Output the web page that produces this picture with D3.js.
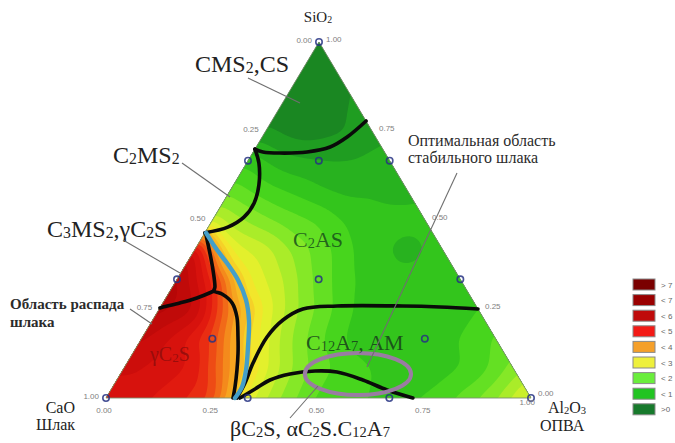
<!DOCTYPE html>
<html><head><meta charset="utf-8">
<script src="https://cdn.jsdelivr.net/npm/d3@7"></script>
<style>html,body{margin:0;padding:0;background:#fff;}svg{display:block;}</style>
</head><body>
<svg id="chart" width="675" height="443"></svg>
<script>
// ---------------- DATA ----------------
// legend classes
const legendLabels = ["> 7", "< 7", "< 6", "< 5", "< 4", "< 3", "< 2", "< 1", ">0"];
const legendColors = ["#7a0000", "#9a0000", "#bf0a0a", "#f31a16", "#f5a02a", "#eef03c", "#6aee3c", "#22c422", "#177a2c"];
const tickValues = [0, 0.25, 0.5, 0.75, 1];

// field values, rows at SiO2 = j/12, entries at Al2O3 = i/12
const fieldSi00 = [5.2, 5.3, 5.1, 4.7, 2.9, 2.2, 1.7, 1.5, 1.5, 1.5, 1.8, 2.2, 2.9];
const fieldSi01 = [5.6, 5.4, 5.2, 4.0, 2.8, 2.1, 1.7, 1.5, 1.4, 1.4, 1.6, 2.1];
const fieldSi02 = [5.8, 5.4, 4.7, 3.3, 2.4, 1.8, 1.4, 1.3, 1.4, 1.5, 1.8];
const fieldSi03 = [6.1, 5.8, 4.2, 2.9, 2.2, 1.7, 1.3, 1.3, 1.3, 1.5];
const fieldSi04 = [6.1, 5.0, 3.0, 2.5, 1.9, 1.5, 1.3, 1.3, 1.4];
const fieldSi05 = [5.6, 2.9, 2.6, 2.1, 1.7, 1.3, 1.2, 1.3];
const fieldSi06 = [2.6, 2.2, 1.9, 1.7, 1.4, 1.3, 1.3];
const fieldSi07 = [1.9, 1.6, 1.4, 1.2, 1.2, 1.2];
const fieldSi08 = [1.4, 1.1, 1.0, 1.0, 1.1];
const fieldSi09 = [0.8, 0.6, 0.7, 0.9];
const fieldSi10 = [0.5, 0.5, 0.8];
const fieldSi11 = [0.5, 0.7];
const fieldSi12 = [0.6];

// experimental design points [Al2O3, SiO2]
const designPoints = [[0,0],[1,0],[0,1],[1/3,0],[2/3,0],[0,1/3],[0,2/3],[1/3,2/3],[2/3,1/3],[1/3,1/3],[1/6,1/6],[2/3,1/6],[1/6,2/3]];

// phase boundaries [Al2O3, SiO2]
const lineCMS = [[0,0.699],[0.023,0.691],[0.064,0.688],[0.127,0.691],[0.174,0.705],[0.200,0.733],[0.222,0.778]];
const lineC2MS = [[0,0.699],[0.029,0.660],[0.060,0.598],[0.074,0.548],[0.070,0.508],[0.046,0.480],[0.0,0.464]];
const lineGamma = [[0.003,0.462],[0.0405,0.407],[0.0715,0.3596],[0.100,0.3118],[0.1035,0.3006],[0.1266,0.292],[0.163,0.267],[0.194,0.2275],[0.2247,0.1713],[0.2473,0.1264],[0.2687,0.0787],[0.288,0.0309],[0.2988,0]];
const lineGammaLeft = [[0.1035,0.3006],[0.073,0.281],[0.040,0.267],[0.006,0.2556],[0,0.253]];
const lineC2AS = [[0.308,0],[0.306,0.0421],[0.2967,0.0983],[0.293,0.1713],[0.3066,0.219],[0.338,0.25],[0.414,0.2584],[0.569,0.2584],[0.658,0.2556],[0.75,0.25]];
const lineC12A7 = [[0.315,0],[0.338,0.0253],[0.3606,0.0506],[0.399,0.0674],[0.4537,0.0758],[0.507,0.073],[0.579,0.0506],[0.650,0.0225],[0.722,0]];
const lineStable = [[0.003,0.464],[0.044,0.424],[0.0946,0.379],[0.1445,0.3315],[0.1915,0.2753],[0.2266,0.219],[0.2623,0.1433],[0.290,0.0787],[0.3045,0.0309],[0.3035,0]];
const optimumCenter = [0.559, 0.0674];
const optimumRadii = [0.125, 0.059];

// ---------------- LAYOUT ----------------
const svg = d3.select("#chart");
const corner = { cao: [106, 398], al: [531, 398], si: [319, 42] };
function proj(al, si) {
  const c = 1 - al - si;
  return [c * corner.cao[0] + al * corner.al[0] + si * corner.si[0],
          c * corner.cao[1] + al * corner.al[1] + si * corner.si[1]];
}
const SERIF = "'Liberation Serif','Times New Roman',serif";
const SANS = "'Liberation Sans',Arial,sans-serif";

// ---------------- FIELD ----------------
const fieldRows = [fieldSi00, fieldSi01, fieldSi02, fieldSi03, fieldSi04, fieldSi05, fieldSi06,
                   fieldSi07, fieldSi08, fieldSi09, fieldSi10, fieldSi11, fieldSi12];
const K = 12;
function F(i, j) { return fieldRows[j][i]; }
function field(u, v) {
  u = Math.max(0, u); v = Math.max(0, v);
  if (u + v > 1) { const e = (u + v - 1) / 2; u -= e; v -= e; if (u < 0) { v += u; u = 0; } if (v < 0) { u += v; v = 0; } }
  const U = Math.min(u * K, K), V = Math.min(v * K, K);
  let i = Math.floor(U), j = Math.floor(V);
  if (i + j >= K) { i = Math.min(i, K - j); return F(i, j); }
  let fu = U - i, fv = V - j;
  if (fu + fv <= 1 || i + j >= K - 1) {
    if (fu + fv > 1) { const s = fu + fv; fu /= s; fv /= s; }
    return F(i, j) * (1 - fu - fv) + F(i + 1, j) * fu + F(i, j + 1) * fv;
  }
  return F(i + 1, j + 1) * (fu + fv - 1) + F(i + 1, j) * (1 - fv) + F(i, j + 1) * (1 - fu);
}
const N = 144, M = N + 1;
let vals = new Float64Array(M * M);
for (let gy = 0; gy < M; gy++) for (let gx = 0; gx < M; gx++) vals[gy * M + gx] = field(gx / N, gy / N);
function boxBlur(a, r) {
  const out = new Float64Array(a.length), tmp = new Float64Array(a.length);
  for (let y = 0; y < M; y++) for (let x = 0; x < M; x++) {
    let s = 0, n = 0;
    for (let k = -r; k <= r; k++) { const xx = Math.min(M - 1, Math.max(0, x + k)); s += a[y * M + xx]; n++; }
    tmp[y * M + x] = s / n;
  }
  for (let y = 0; y < M; y++) for (let x = 0; x < M; x++) {
    let s = 0, n = 0;
    for (let k = -r; k <= r; k++) { const yy = Math.min(M - 1, Math.max(0, y + k)); s += tmp[yy * M + x]; n++; }
    out[y * M + x] = s / n;
  }
  return out;
}
vals = boxBlur(boxBlur(vals, 3), 2);

const color = d3.scaleLinear()
  .domain([0, 0.5, 1, 1.5, 2, 2.5, 3, 3.5, 4, 4.5, 5, 5.5, 6, 7, 8])
  .range(["#0d6a20", "#177c22", "#22a820", "#38cf1a", "#72e626", "#bdee2a", "#f0f02c", "#f7c626",
          "#f59a1e", "#f05a16", "#e61e10", "#d20e0c", "#ba0808", "#980000", "#780000"])
  .clamp(true);
const step = 0.25;
const thresholds = d3.range(0, 8.001, step);
const contours = d3.contours().size([M, M]).thresholds(thresholds)(Array.from(vals));
const gridTransform = d3.geoTransform({
  point(x, y) { const p = proj((x - 0.5) / N, (y - 0.5) / N); this.stream.point(p[0], p[1]); }
});
const gpath = d3.geoPath(gridTransform);

const triPts = [corner.cao, corner.al, corner.si];
svg.append("clipPath").attr("id", "tri").append("polygon").attr("points", triPts.map(p => p.join(",")).join(" "));
svg.append("g").attr("clip-path", "url(#tri)")
  .selectAll("path").data(contours).join("path")
  .attr("d", gpath)
  .attr("fill", d => color(d.value + step / 2));
svg.append("polygon").attr("points", triPts.map(p => p.join(",")).join(" "))
  .attr("fill", "none").attr("stroke", "#7d9070").attr("stroke-width", 0.9);

// ---------------- BOUNDARIES ----------------
const line = d3.line().x(d => proj(d[0], d[1])[0]).y(d => proj(d[0], d[1])[1]).curve(d3.curveCatmullRom.alpha(0.5));
const gl = svg.append("g").attr("fill", "none").attr("stroke-linecap", "round").attr("stroke-linejoin", "round");
[lineCMS, lineC2MS, lineGamma, lineGammaLeft, lineC2AS, lineC12A7].forEach(l =>
  gl.append("path").attr("d", line(l)).attr("stroke", "#0a0a0a").attr("stroke-width", 3.6));
gl.append("path").attr("d", line(lineStable)).attr("stroke", "#449fc8").attr("stroke-width", 4.4);

// optimum ellipse
const oc = proj(optimumCenter[0], optimumCenter[1]);
svg.append("ellipse").attr("cx", oc[0]).attr("cy", oc[1])
  .attr("rx", optimumRadii[0] * (corner.al[0] - corner.cao[0]))
  .attr("ry", optimumRadii[1] * (corner.cao[1] - corner.si[1]))
  .attr("fill", "none").attr("stroke", "#9a7ca2").attr("stroke-width", 4);

// design points
svg.append("g").selectAll("circle").data(designPoints).join("circle")
  .attr("cx", d => proj(d[0], d[1])[0]).attr("cy", d => proj(d[0], d[1])[1]).attr("r", 3.2)
  .attr("fill", "none").attr("stroke", "rgba(38,50,130,0.85)").attr("stroke-width", 1.6);

// ---------------- TICKS ----------------
const gt = svg.append("g").attr("font-family", SANS).attr("font-size", 8).attr("fill", "#808080");
tickValues.forEach(t => {
  const f = d3.format(".2f")(t);
  const pl = proj(0, 1 - t); // CaO axis, left edge
  gt.append("text").attr("x", pl[0] - 7).attr("y", pl[1] + 1).attr("text-anchor", "end").text(f);
  const pr = proj(1 - t, t); // SiO2 axis, right edge
  gt.append("text").attr("x", pr[0] + 7).attr("y", pr[1] - (t === 0 ? 2 : 0)).text(f);
  const pb = proj(t, 0); // Al2O3 axis, bottom
  if (t === 1) gt.append("text").attr("x", pb[0] + 4).attr("y", pb[1] + 7).attr("text-anchor", "end").text(f);
  else gt.append("text").attr("x", pb[0] - 2).attr("y", pb[1] + 15).attr("text-anchor", "middle").text(f);
});

// ---------------- TEXT ----------------
function rich(x, y, str, fs, opts = {}) {
  const t = svg.append("text").attr("x", x).attr("y", y).attr("font-family", SERIF).attr("font-size", fs)
    .attr("fill", opts.fill || "#222").attr("text-anchor", opts.anchor || "start");
  if (opts.weight) t.attr("font-weight", opts.weight);
  if (opts.opacity) t.attr("fill-opacity", opts.opacity);
  const parts = str.split(/(_\{[^}]*\})/);
  const sh = fs * 0.06;
  let shifted = false;
  parts.forEach(p => {
    if (!p) return;
    if (p.startsWith("_{")) {
      t.append("tspan").attr("font-size", fs * 0.66).attr("dy", shifted ? 0 : sh).text(p.slice(2, -1));
      shifted = true;
    } else {
      t.append("tspan").attr("dy", shifted ? -sh : 0).text(p);
      shifted = false;
    }
  });
  return t;
}
// axis titles
rich(318, 22, "SiO_{2}", 15, { anchor: "middle" });
rich(75, 413, "CaO", 16, { anchor: "end" });
rich(75, 430, "Шлак", 16, { anchor: "end" });
rich(548, 413, "Al_{2}O_{3}", 16);
rich(540, 431, "ОПВА", 16);

// phase labels
rich(195, 72, "CMS_{2},CS", 24);
rich(113, 163, "C_{2}MS_{2}", 24);
rich(47, 237, "C_{3}MS_{2},γC_{2}S", 24);
rich(293, 247, "C_{2}AS", 22, { fill: "#17501b", opacity: 0.85 });
rich(306, 350, "C_{12}A_{7}, AM", 22, { fill: "#173f1b", opacity: 0.85 });
rich(150, 361, "γC_{2}S", 20, { fill: "#8a0c0c", opacity: 0.8 });
rich(230, 436, "βC_{2}S, αC_{2}S.C_{12}A_{7}", 22);
rich(408, 146, "Оптимальная область", 16, { fill: "#2b2b2b" });
rich(408, 163, "стабильного шлака", 16, { fill: "#2b2b2b" });
rich(10, 309, "Область распада", 15, { fill: "#2b2b2b", weight: "bold" });
rich(10, 327, "шлака", 15, { fill: "#2b2b2b", weight: "bold" });

// leader lines
const leaders = [[[248, 78], [300, 103]], [[182, 163], [230, 197]], [[123, 240], [180, 273]],
                 [[130, 309], [152, 324]], [[457, 173], [367, 367]], [[290, 418], [318, 386]]];
svg.append("g").selectAll("line").data(leaders).join("line")
  .attr("x1", d => d[0][0]).attr("y1", d => d[0][1]).attr("x2", d => d[1][0]).attr("y2", d => d[1][1])
  .attr("stroke", "#6f6f6f").attr("stroke-width", 1.1);

// ---------------- LEGEND ----------------
const lg = svg.append("g");
legendLabels.forEach((lab, i) => {
  const y = 279 + i * 15.6;
  lg.append("rect").attr("x", 633).attr("y", y).attr("width", 22).attr("height", 11)
    .attr("fill", legendColors[i]).attr("stroke", "#8a8a8a").attr("stroke-width", 1);
  lg.append("text").attr("x", 661).attr("y", y + 8.5).attr("font-family", SANS).attr("font-size", 8)
    .attr("fill", "#666").text(lab);
});
</script>
</body></html>
